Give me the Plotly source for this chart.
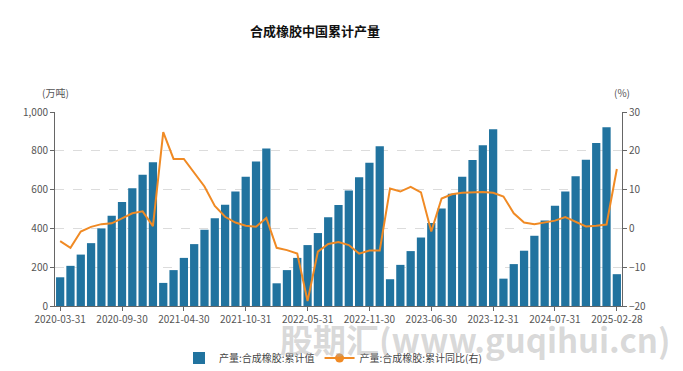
import plotly.graph_objects as go

dates = [
    "2020-03-31","2020-04-30","2020-05-31","2020-06-30","2020-07-31","2020-08-31","2020-09-30","2020-10-31","2020-11-30","2020-12-31",
    "2021-02-28","2021-03-31","2021-04-30","2021-05-31","2021-06-30","2021-07-31","2021-08-31","2021-09-30","2021-10-31","2021-11-30","2021-12-31",
    "2022-02-28","2022-03-31","2022-04-30","2022-05-31","2022-06-30","2022-07-31","2022-08-31","2022-09-30","2022-10-31","2022-11-30","2022-12-31",
    "2023-02-28","2023-03-31","2023-04-30","2023-05-31","2023-06-30","2023-07-31","2023-08-31","2023-09-30","2023-10-31","2023-11-30","2023-12-31",
    "2024-02-29","2024-03-31","2024-04-30","2024-05-31","2024-06-30","2024-07-31","2024-08-31","2024-09-30","2024-10-31","2024-11-30","2024-12-31",
    "2025-02-28",
]
cum_output = [
    148, 207, 265, 324, 400, 465, 536, 607, 676, 741,
    119, 185, 248, 319, 393, 452, 522, 590, 666, 745, 812,
    117, 185, 248, 314, 376, 457, 521, 595, 664, 738, 824,
    138, 212, 283, 353, 428, 502, 579, 666, 752, 829, 911,
    141, 216, 285, 362, 441, 517, 590, 669, 754, 840, 922,
    164,
]
yoy = [
    -3.3, -5.0, -0.8, 0.4, 1.1, 1.3, 2.6, 3.9, 4.4, 0.6,
    24.8, 17.9, 17.9, 14.4, 10.8, 5.8, 3.0, 1.5, 0.7, 0.45, 2.7,
    -5.0, -5.6, -6.5, -18.7, -6.0, -4.0, -3.5, -4.3, -6.5, -5.7, -5.7,
    10.3, 9.5, 10.7, 9.3, -0.8, 7.7, 8.8, 9.2, 9.3, 9.4, 9.2,
    8.2, 3.9, 1.5, 1.1, 1.5, 2.0, 2.9, 1.8, 0.5, 0.7, 1.0,
    15.3,
]
tick_labels = ["2020-03-31","2020-09-30","2021-04-30","2021-10-31","2022-05-31",
               "2022-11-30","2023-06-30","2023-12-31","2024-07-31","2025-02-28"]

title = "合成橡胶中国累计产量"
bar_name = "产量:合成橡胶:累计值"
line_name = "产量:合成橡胶:累计同比(右)"
watermark = "股期汇(www.guqihui.cn)"

BAR = "#21739f"
LINE = "#f08a24"
FONT = "Noto Sans CJK SC"

fig = go.Figure()
fig.add_trace(go.Bar(x=dates, y=cum_output, name=bar_name, marker=dict(color=BAR, line=dict(width=0)),
                     yaxis="y"))
fig.add_trace(go.Scatter(x=dates, y=yoy, name=line_name, mode="lines", showlegend=False,
                         line=dict(color=LINE, width=2), yaxis="y2"))
fig.add_trace(go.Scatter(x=[None], y=[None], name=line_name, mode="lines+markers",
                         line=dict(color=LINE, width=2), marker=dict(color=LINE, size=9), yaxis="y2"))

fig.update_layout(
    width=683, height=371,
    margin=dict(l=55, r=61, t=112, b=65, autoexpand=False),
    paper_bgcolor="white", plot_bgcolor="white",
    font=dict(family=FONT, size=10, color="#555"),
    bargap=0.2,
    title=dict(text="<b>" + title + "</b>", x=315/683, xanchor="center", xref="container",
               y=1 - 31/371, yanchor="middle", font=dict(size=13, color="#111", family=FONT)),
    xaxis=dict(type="category", range=[-0.5, len(dates) - 0.5], tickmode="array", tickvals=tick_labels,
               ticktext=tick_labels, showline=True, linecolor="#666", linewidth=1, ticks="outside",
               ticklen=4, tickcolor="#666", showgrid=False, automargin=False,
               tickfont=dict(size=10, color="#555")),
    yaxis=dict(range=[0, 1000], dtick=200, tickformat=",", showline=True, linecolor="#666", linewidth=1,
               ticks="outside", ticklen=4, tickcolor="#666", showgrid=True, gridcolor="#dcdcdc",
               griddash="dash", zeroline=False, automargin=False, tickfont=dict(size=10, color="#555")),
    yaxis2=dict(range=[-20, 30], dtick=10, overlaying="y", side="right", showline=True, linecolor="#666",
                linewidth=1, ticks="outside", ticklen=4, tickcolor="#666", showgrid=False, zeroline=False,
                automargin=False, tickfont=dict(size=10, color="#555")),
    legend=dict(orientation="h", x=(333-55)/567, xanchor="center", y=-(358-306)/194, yanchor="middle",
                font=dict(size=10, color="#444"), itemwidth=30, bgcolor="rgba(0,0,0,0)"),
    annotations=[
        dict(text="(万吨)", xref="paper", yref="paper", x=0, y=1 + 19/194, xanchor="center", yanchor="middle",
             showarrow=False, font=dict(size=10, color="#555")),
        dict(text="(%)", xref="paper", yref="paper", x=1, y=1 + 19/194, xanchor="center", yanchor="middle",
             showarrow=False, font=dict(size=10, color="#555")),
        dict(text="<b>" + watermark + "</b>", xref="paper", yref="paper", x=(475-55)/567,
             y=-(339-306)/194, xanchor="center", yanchor="middle", showarrow=False,
             font=dict(size=33, color="rgba(170,170,170,0.45)", family=FONT)),
    ],
)

fig.write_html("out.html", config={"displayModeBar": False},
               post_script="document.body.style.margin='0';document.body.style.padding='0';")
